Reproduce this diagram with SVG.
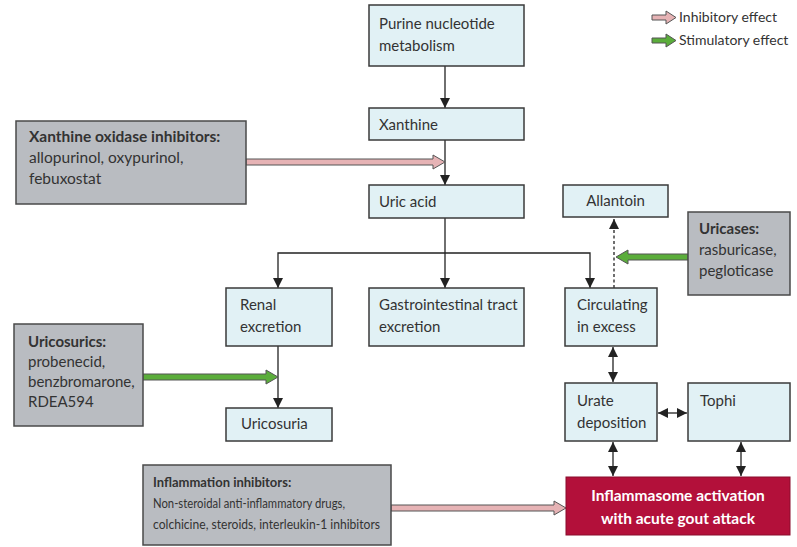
<svg xmlns="http://www.w3.org/2000/svg" width="797" height="547" viewBox="0 0 797 547">
<defs>
<style>
.n{fill:#e1f1f5;stroke:#3a3a3a;stroke-width:1.5}
.g{fill:#b9bcc1;stroke:#4a4a4a;stroke-width:1.5}
.r{fill:#b3103a;stroke:#8a0d2c;stroke-width:1}
text{font-family:Lato,"Liberation Sans",sans-serif;font-size:15px;fill:#333}
.b{font-weight:bold}
.w{fill:#fff;font-size:15.5px}
.xo{font-size:15.5px}
.sm{font-size:13px}
.lg{font-size:14px}
.c{stroke:#222;stroke-width:1.3;fill:none}
.pk{fill:#e6b3b5;stroke:#555;stroke-width:1}
.gr{fill:#5bad3b;stroke:#555;stroke-width:1}
</style>
<marker id="ah2" viewBox="0 0 10 10" refX="10" refY="5" markerWidth="10" markerHeight="10" orient="auto-start-reverse" markerUnits="userSpaceOnUse">
<path d="M0,0 L10,5 L0,10 Z" fill="#222"/>
</marker>
</defs>
<rect width="797" height="547" fill="#fff"/>

<g id="legend">
<polygon class="pk" points="652,15 666,15 666,11 676,17.5 666,24 666,20 652,20"/>
<text class="lg" x="679" y="22">Inhibitory effect</text>
<polygon class="gr" points="652,38 666,38 666,34 676,40.5 666,47 666,43 652,43"/>
<text class="lg" x="679" y="45">Stimulatory effect</text>
</g>

<g id="connectors">
<line class="c" x1="445" y1="66" x2="445" y2="108" marker-end="url(#ah2)"/>
<line class="c" x1="445" y1="140" x2="445" y2="185" marker-end="url(#ah2)"/>
<line class="c" x1="445" y1="218" x2="445" y2="288" marker-end="url(#ah2)"/>
<polyline class="c" points="278,288 278,253 590,253 590,288" marker-start="url(#ah2)" marker-end="url(#ah2)"/>
<line x1="614" y1="288" x2="614" y2="219" stroke="#222" stroke-width="1.3" stroke-dasharray="3,2.5" marker-end="url(#ah2)"/>
<line class="c" x1="278" y1="346" x2="278" y2="408" marker-end="url(#ah2)"/>
<line class="c" x1="613" y1="347" x2="613" y2="382" marker-start="url(#ah2)" marker-end="url(#ah2)"/>
<line class="c" x1="658" y1="413" x2="687" y2="413" marker-start="url(#ah2)" marker-end="url(#ah2)"/>
<line class="c" x1="613" y1="442" x2="613" y2="476" marker-start="url(#ah2)" marker-end="url(#ah2)"/>
<line class="c" x1="741" y1="442" x2="741" y2="476" marker-start="url(#ah2)" marker-end="url(#ah2)"/>
<polygon class="pk" points="246,159 433,159 433,155 445,162 433,169 433,165 246,165"/>
<polygon class="gr" points="143,374 266,374 266,370 278,377 266,384 266,380 143,380"/>
<polygon class="gr" points="688,254 628,254 628,250 616,257 628,264 628,260 688,260"/>
<polygon class="pk" points="391,505 554,505 554,501 566,508 554,515 554,511 391,511"/>
</g>

<g id="purine">
<rect class="n" x="369" y="5" width="155" height="61"/>
<text x="379" y="29">Purine nucleotide</text>
<text x="379" y="51">metabolism</text>
</g>
<g id="xanthine">
<rect class="n" x="369" y="108" width="155" height="32"/>
<text x="379" y="130">Xanthine</text>
</g>
<g id="uricacid">
<rect class="n" x="369" y="185" width="155" height="33"/>
<text x="379" y="207">Uric acid</text>
</g>
<g id="allantoin">
<rect class="n" x="563" y="185" width="105" height="32"/>
<text x="615.5" y="206" text-anchor="middle">Allantoin</text>
</g>
<g id="xo-inhibitors">
<rect class="g" x="16" y="121" width="230" height="83"/>
<text x="29" y="142" class="b xo">Xanthine oxidase inhibitors:</text>
<text x="29" y="163" class="xo">allopurinol, oxypurinol,</text>
<text x="29" y="184" class="xo">febuxostat</text>
</g>
<g id="uricases">
<rect class="g" x="688" y="212" width="102" height="83"/>
<text x="699" y="234" class="b">Uricases:</text>
<text x="699" y="255">rasburicase,</text>
<text x="699" y="276">pegloticase</text>
</g>
<g id="renal">
<rect class="n" x="226" y="288" width="106" height="58"/>
<text x="240" y="310">Renal</text>
<text x="240" y="332">excretion</text>
</g>
<g id="gastro">
<rect class="n" x="369" y="288" width="155" height="58"/>
<text x="379" y="310">Gastrointestinal tract</text>
<text x="379" y="332">excretion</text>
</g>
<g id="circulating">
<rect class="n" x="565" y="288" width="92" height="58"/>
<text x="577" y="310">Circulating</text>
<text x="577" y="332">in excess</text>
</g>
<g id="uricosurics">
<rect class="g" x="14" y="324" width="129" height="102"/>
<text x="28" y="347" class="b">Uricosurics:</text>
<text x="28" y="367">probenecid,</text>
<text x="28" y="387">benzbromarone,</text>
<text x="28" y="407">RDEA594</text>
</g>
<g id="uricosuria">
<rect class="n" x="226" y="408" width="106" height="33"/>
<text x="241" y="429">Uricosuria</text>
</g>
<g id="urate">
<rect class="n" x="565" y="383" width="92" height="58"/>
<text x="577" y="406">Urate</text>
<text x="577" y="428">deposition</text>
</g>
<g id="tophi">
<rect class="n" x="688" y="383" width="102" height="58"/>
<text x="700" y="406">Tophi</text>
</g>
<g id="inflammation-inhibitors">
<rect class="g" x="143" y="465" width="248" height="80"/>
<text x="153" y="487" class="b sm">Inflammation inhibitors:</text>
<text x="153" y="508" class="sm" textLength="192" lengthAdjust="spacingAndGlyphs">Non-steroidal anti-inflammatory drugs,</text>
<text x="153" y="529" class="sm" textLength="227" lengthAdjust="spacingAndGlyphs">colchicine, steroids, interleukin-1 inhibitors</text>
</g>
<g id="inflammasome">
<rect class="r" x="566" y="477" width="224" height="58"/>
<text x="678" y="501" class="w b" text-anchor="middle">Inflammasome activation</text>
<text x="678" y="524" class="w b" text-anchor="middle">with acute gout attack</text>
</g>
</svg>
